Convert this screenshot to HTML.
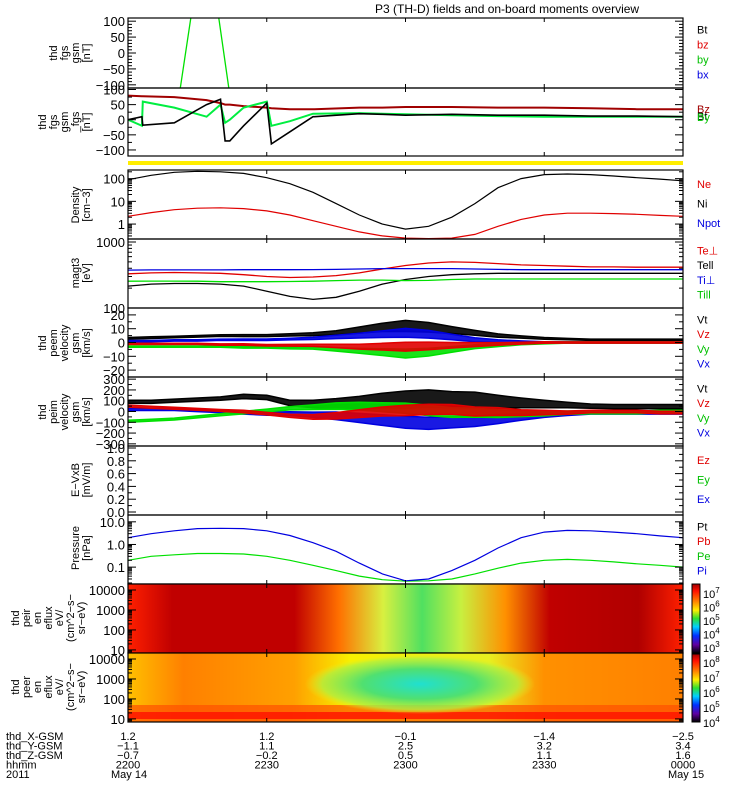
<!DOCTYPE html>
<html><head><meta charset="utf-8"><style>
body{margin:0;background:#fff}
svg{display:block;font-family:"Liberation Sans",sans-serif}
</style></head><body>
<svg id="c" width="750" height="800" viewBox="0 0 750 800">
<defs>
<linearGradient id="cbar" x1="0" y1="0" x2="0" y2="1">
<stop offset="0" stop-color="#a00000"/><stop offset="0.1" stop-color="#ff1000"/><stop offset="0.25" stop-color="#ff8000"/><stop offset="0.38" stop-color="#ffee00"/><stop offset="0.5" stop-color="#30e030"/><stop offset="0.62" stop-color="#00d0ff"/><stop offset="0.75" stop-color="#0030ff"/><stop offset="0.88" stop-color="#6000a0"/><stop offset="1" stop-color="#000"/>
</linearGradient>
<linearGradient id="ion" x1="0" y1="0" x2="1" y2="0">
<stop offset="0" stop-color="#ff2000"/><stop offset="0.08" stop-color="#c00000"/><stop offset="0.3" stop-color="#c00000"/><stop offset="0.38" stop-color="#ff7000"/><stop offset="0.46" stop-color="#d8f040"/><stop offset="0.53" stop-color="#50e060"/><stop offset="0.6" stop-color="#c8f040"/><stop offset="0.68" stop-color="#ff9000"/><stop offset="0.76" stop-color="#c00000"/><stop offset="0.92" stop-color="#b00000"/><stop offset="1" stop-color="#ff2000"/>
</linearGradient>
<linearGradient id="ele" x1="0" y1="0" x2="1" y2="0">
<stop offset="0" stop-color="#ffc000"/><stop offset="0.1" stop-color="#ff8000"/><stop offset="0.3" stop-color="#ffa000"/><stop offset="0.4" stop-color="#f8f000"/><stop offset="0.65" stop-color="#e8f020"/><stop offset="0.75" stop-color="#ff9000"/><stop offset="1" stop-color="#ff8000"/>
</linearGradient>
<radialGradient id="eblob" cx="0.5" cy="0.5" r="0.5">
<stop offset="0" stop-color="#20e0d0"/><stop offset="0.5" stop-color="#50e070"/><stop offset="0.85" stop-color="#b0f040" stop-opacity="0.8"/><stop offset="1" stop-color="#e8f020" stop-opacity="0"/>
</radialGradient>
<clipPath id="pc"><rect x="128" y="18" width="555" height="704"/></clipPath>
</defs>
</svg>
<script>
const NS='http://www.w3.org/2000/svg';
const svg=document.getElementById('c');
const X0=128,X1=683;
// time grid, minutes after 22:00
const times=[0,5,10,15,20,25,30,35,40,45,50,55,60,65,70,75,80,85,90,95,100,105,110,115,120];
const xTickLabels=['2200','2230','2300','2330','0000'];
const xTickMins=[0,30,60,90,120];
const gsmX=['1.2','1.2','-0.1','-1.4','-2.5'];
const gsmY=['-1.1','1.1','2.5','3.2','3.4'];
const gsmZ=['-0.7','-0.2','0.5','1.1','1.6'];
// density
const densNe=[90,140,190,210,200,170,110,60,25,8,2.5,1,0.6,0.8,2,8,40,100,150,160,150,130,110,95,80];
const densNi=[2.2,3.2,4.3,5,5.2,4.8,3.8,2.5,1.4,0.8,0.45,0.3,0.24,0.23,0.24,0.35,0.8,1.6,2.5,3,3,2.9,2.7,2.4,2.2];
// temperatures (eV)
const tePerp=[330,340,345,340,335,320,300,290,295,310,340,390,440,480,500,490,470,450,440,430,420,420,415,415,415];
const tePar=[215,230,235,235,230,215,180,150,135,145,180,230,270,300,320,330,335,335,335,335,335,335,335,335,335];
const tiPerp=[375,378,378,378,378,380,380,380,382,385,390,395,395,395,395,390,385,380,380,380,380,380,380,380,380];
const tiPar=[255,256,256,255,250,250,250,252,255,260,265,265,260,262,270,275,275,275,275,275,275,275,275,275,275];
// electron velocity km/s (center) and noise envelope
const v1t=[3,3.5,4,4.5,5,5,5,5.5,6,7,9,11,12,11,9,7,5,4,3,2.5,2,2,2,2,2];
const v1z=[-1,-1,-1,-1,-1.5,-1.5,-2,-2,-2,-2.5,-3,-3,-3,-2.5,-2,-1.5,-1,-0.5,0,0,0,0,0,0,0];
const v1y=[-3,-3,-3,-3,-3,-3.5,-3.5,-4,-4,-5,-6,-7,-8,-7,-5,-3,-2,-1,-0.5,0,0,0,0,0,0];
const v1x=[1,1,1.5,1.5,2,2,2,2.5,3,4,5,6,7,6,4,2,1,0.5,0,0,0,0,0,0,0];
const v1env=[0.6,0.6,0.6,0.6,0.6,0.7,0.7,0.8,1,1.5,2.2,3,4,3.5,2.5,1.8,1.2,0.8,0.6,0.5,0.5,0.5,0.5,0.5,0.5];
// ion velocity
const v2t=[90,90,100,110,120,140,130,80,70,70,80,100,110,120,110,110,90,80,70,60,50,45,45,45,45];
const v2z=[50,40,30,20,10,0,-20,-40,-50,-40,-20,0,10,20,20,0,0,-10,-10,-10,0,0,0,-10,-10];
const v2y=[-90,-80,-70,-50,-30,-10,10,30,40,50,50,40,30,10,-10,-10,-20,-20,-20,-10,-10,-10,-10,0,0];
const v2x=[20,20,20,10,0,-10,-20,-20,-30,-40,-60,-80,-100,-110,-100,-90,-70,-50,-30,-20,-10,-10,-10,-10,-10];
const v2env=[15,15,15,15,15,20,20,25,35,50,60,70,80,80,75,70,60,45,35,25,20,20,20,20,20];
// pressure nPa
const pPi=[2,3,4,5,5.2,5,4,2.5,1.2,0.5,0.15,0.05,0.025,0.03,0.07,0.2,0.7,2,3.5,4.2,4,3.5,3,2.4,2];
const pPe=[0.2,0.3,0.35,0.4,0.4,0.38,0.3,0.2,0.12,0.07,0.04,0.028,0.024,0.025,0.03,0.05,0.09,0.15,0.2,0.22,0.2,0.17,0.14,0.12,0.1];
// fgs (panel 1) green spike
const fgsT=[11.3,13.6,19.6,21.8];
const fgsY=[-110,112,112,-110];
// fgm: Bz red, Bt-ish black sawtooth, green
const fgmT=[0,3,3.2,10,17,20,21,22,25,30,31,35,40,40.3,50,55,60,70,80,90,100,110,120];
const fgmBz=[80,78,78,75,65,55,50,50,45,40,38,35,35,35,40,40,42,42,40,40,38,35,35];
const fgmBk=[0,10,-18,-10,50,68,-70,-70,-20,55,-80,-40,10,10,20,18,15,18,15,15,12,12,10];
const fgmBg=[0,-20,60,40,10,50,-10,0,40,60,-20,-5,20,20,22,20,18,15,12,10,10,10,10];

const xs=t=>X0+(X1-X0)*t/120;
function el(tag,attrs,name,inter,parent){const e=document.createElementNS(NS,tag);for(const k in attrs)e.setAttribute(k,attrs[k]);


(parent||svg).appendChild(e);return e;}
function txt(x,y,s,opt,name){const e=el('text',Object.assign({x:x,y:y,'font-size':opt.fs||11,fill:opt.fill||'#000','text-anchor':opt.anchor||'start'},opt.extra||{}),name,false);e.textContent=s;return e;}
function linScale(top,bot,lo,hi){return v=>bot-(bot-top)*(v-lo)/(hi-lo);}
function logScale(top,bot,lo,hi){return v=>bot-(bot-top)*(Math.log10(v)-Math.log10(lo))/(Math.log10(hi)-Math.log10(lo));}
const gclip=el('g',{'clip-path':'url(#pc)'},'plot-clip',false);
function line(tarr,varr,ys,col,name,w){const d=tarr.map((t,i)=>(i?'L':'M')+xs(t).toFixed(1)+','+ys(varr[i]).toFixed(1)).join('');el('path',{d:d,fill:'none',stroke:col,'stroke-width':w||1.3},name,false,gclip);}
function band(varr,env,k,ys,col,name){let up=times.map((t,i)=>xs(t).toFixed(1)+','+ys(varr[i]+env[i]*k).toFixed(1));let dn=times.map((t,i)=>xs(t).toFixed(1)+','+ys(varr[i]-env[i]*k).toFixed(1)).reverse();el('polygon',{points:up.concat(dn).join(' '),fill:col,'fill-opacity':0.9,stroke:col,'stroke-width':1.5},name,false,gclip);}
function frame(top,bot,name){el('rect',{x:X0,y:top,width:X1-X0,height:bot-top,fill:'none',stroke:'#000','stroke-width':1.2},name+'-frame',false);
xTickMins.forEach((m,i)=>{const x=xs(m);el('line',{x1:x,y1:top,x2:x,y2:top+4,stroke:'#000'},name+'-xtick',false);el('line',{x1:x,y1:bot,x2:x,y2:bot-4,stroke:'#000'},name+'-xtick',false);});}
function yticks(top,bot,ys,vals,labels,name,minor){vals.forEach((v,i)=>{const y=ys(v);el('line',{x1:X0,y1:y,x2:X0+8,y2:y,stroke:'#000'},name+'-ytick',false);el('line',{x1:X1,y1:y,x2:X1-8,y2:y,stroke:'#000'},name+'-ytick',false);txt(X0-3,y+5,labels[i],{fs:13,anchor:'end'},name+'-ytick-label');});
(minor||[]).forEach(v=>{const y=ys(v);el('line',{x1:X0,y1:y,x2:X0+4,y2:y,stroke:'#000'},name+'-yminor',false);el('line',{x1:X1,y1:y,x2:X1-4,y2:y,stroke:'#000'},name+'-yminor',false);});}
function ylabCols(lines,cy,name,xr){lines.slice().reverse().forEach((s,i)=>{const x=xr-i*11;const g=el('g',{transform:'translate('+x+','+cy+') rotate(-90)'},name,false);const t=el('text',{x:0,y:0,'font-size':11,'text-anchor':'middle'},name+'-line',false,g);t.textContent=s;});}
function legend(items,top,bot,name){const n=items.length;items.forEach((it,i)=>{const y=top+8+(bot-top-10)*(i+0.5)/n;txt(697,y,it[0],{fs:11,fill:it[1]},name+'-legend-'+i);});}
function minorLog(lo,hi){const a=[];for(let d=Math.floor(Math.log10(lo));d<Math.log10(hi);d++)for(let k=2;k<10;k++){const v=k*Math.pow(10,d);if(v>=lo&&v<=hi)a.push(v);}return a;}

txt(375,13,'P3 (TH-D) fields and on-board moments overview',{fs:12},'chart-title');

// Panel1
let ys=linScale(18,88,-110,110);
line(fgsT,fgsY,ys,'#00e000','fgs-by-line',1.3);
frame(18,88,'fgs-panel');yticks(18,88,ys,[100,50,0,-50,-100],['100','50','0','\u221250','\u2212100'],'fgs-panel',[90,80,70,60,40,30,20,10,-10,-20,-30,-40,-60,-70,-80,-90]);
ylabCols(['thd','fgs','gsm','[nT]'],53,'fgs-y-title',90);
legend([['Bt','#000'],['bz','#e00000'],['by','#00c000'],['bx','#0000e0']],18,88,'fgs');
// Panel2
ys=linScale(88,156,-120,105);
line(fgmT,fgmBz,ys,'#a00000','fgm-bz-line',2);
line(fgmT,fgmBg,ys,'#00ee40','fgm-by-line',2);
line(fgmT,fgmBk,ys,'#000','fgm-bt-line',1.6);
frame(88,156,'fgm-panel');yticks(88,156,ys,[100,50,0,-50,-100],['100','50','0','\u221250','\u2212100'],'fgm-panel',[75,25,-25,-75]);
ylabCols(['thd','fgs','gsm','_fgs','[nT]'],122,'fgm-y-title',90);
txt(697,113,'Bz',{fs:11,fill:'#a00000'},'fgm-legend-bz');txt(697,120,'Bt',{fs:11,fill:'#000'},'fgm-legend-bt');txt(697,121,'By',{fs:11,fill:'#00c000'},'fgm-legend-by');
// yellow bar
el('rect',{x:X0,y:161,width:X1-X0,height:4,fill:'#ffee00'},'mode-bar',false);
// Panel3 density
ys=logScale(170,239,0.22,240);
line(times,densNe,ys,'#000','density-ne-line',1.2);
line(times,densNi,ys,'#e00000','density-ni-line',1.2);
frame(170,239,'density-panel');yticks(170,239,ys,[100,10,1],['100','10','1'],'density-panel',minorLog(0.22,240));
ylabCols(['Density','[cm\u22123]'],205,'density-y-title',90);
legend([['Ne','#e00000'],['Ni','#000'],['Npot','#0000e0']],170,239,'density');
// Panel4 temperature
ys=logScale(242,308,100,1000);
line(times,tePar,ys,'#000','te-par-line',1.3);
line(times,tiPar,ys,'#00e000','ti-par-line',1.3);
line(times,tePerp,ys,'#e00000','te-perp-line',1.3);
line(times,tiPerp,ys,'#0000e0','ti-perp-line',1.3);
frame(239,308,'temperature-panel');yticks(239,308,ys,[1000,100],['1000','100'],'temperature-panel',minorLog(100,1000));
ylabCols(['magt3','[eV]'],273,'temperature-y-title',90);
legend([['Te\u22a5','#e00000'],['Tell','#000'],['Ti\u22a5','#0000e0'],['Till','#00c000']],239,308,'temperature');
// Panel5 velocity
ys=linScale(308,377,-25,25);
band(v1t,v1env,1,ys,'#000','v1-vt-band');band(v1x,v1env,0.8,ys,'#0000e0','v1-vx-band');band(v1y,v1env,0.8,ys,'#00e000','v1-vy-band');band(v1z,v1env,0.8,ys,'#e00000','v1-vz-band');
frame(308,377,'eflux-velocity-panel');yticks(308,377,ys,[20,10,0,-10,-20],['20','10','0','\u221210','\u221220'],'eflux-velocity-panel',[15,5,-5,-15]);
ylabCols(['thd','peem','velocity','gsm','[km/s]'],343,'eflux-velocity-y-title',90);
legend([['Vt','#000'],['Vz','#e00000'],['Vy','#00c000'],['Vx','#0000e0']],308,377,'eflux-velocity');
// Panel6
ys=linScale(377,446,-320,320);
band(v2t,v2env,1,ys,'#000','v2-vt-band');band(v2x,v2env,0.7,ys,'#0000e0','v2-vx-band');band(v2y,v2env,0.6,ys,'#00e000','v2-vy-band');band(v2z,v2env,0.6,ys,'#e00000','v2-vz-band');
frame(377,446,'ion-velocity-panel');yticks(377,446,ys,[300,200,100,0,-100,-200,-300],['300','200','100','0','\u2212100','\u2212200','\u2212300'],'ion-velocity-panel',[250,150,50,-50,-150,-250]);
ylabCols(['thd','peim','velocity','gsm','[km/s]'],412,'ion-velocity-y-title',90);
legend([['Vt','#000'],['Vz','#e00000'],['Vy','#00c000'],['Vx','#0000e0']],377,446,'ion-velocity');
// Panel7 E
ys=linScale(448,512,0,1);
frame(446,515,'efield-panel');yticks(446,515,ys,[1,0.8,0.6,0.4,0.2,0],['1.0','0.8','0.6','0.4','0.2','0.0'],'efield-panel',[0.9,0.7,0.5,0.3,0.1]);
ylabCols(['E\u2212VxB','[mV/m]'],480,'efield-y-title',90);
legend([['Ez','#e00000'],['Ey','#00c000'],['Ex','#0000e0']],446,515,'efield');
// Panel8 pressure
ys=logScale(515,584,0.018,20);
line(times,pPe,ys,'#00e000','pressure-pe-line',1.2);
line(times,pPi,ys,'#0000e0','pressure-pi-line',1.2);
frame(515,584,'pressure-panel');yticks(515,584,ys,[10,1,0.1],['10.0','1.0','0.1'],'pressure-panel',minorLog(0.018,20));
ylabCols(['Pressure','[nPa]'],548,'pressure-y-title',90);
legend([['Pt','#000'],['Pb','#e00000'],['Pe','#00c000'],['Pi','#0000e0']],515,584,'pressure');
// Panel9 ion spectrogram
el('rect',{x:X0,y:584,width:X1-X0,height:69,fill:'url(#ion)'},'ion-spectrogram',false);
ys=logScale(584,653,7,20000);
frame(584,653,'ion-spec-panel');yticks(584,653,ys,[10000,1000,100,10],['10000','1000','100','10'],'ion-spec-panel',minorLog(7,20000));
ylabCols(['thd','peir','en','eflux','eV/','(cm^2\u2212s\u2212','sr\u2212eV)'],618,'ion-spec-y-title',85);
// Panel10 electron spectrogram
el('rect',{x:X0,y:653,width:X1-X0,height:69,fill:'url(#ele)'},'electron-spectrogram',false);
el('rect',{x:X0,y:705,width:X1-X0,height:17,fill:'#ff5000','fill-opacity':0.7},'electron-spec-lowband',false);
el('rect',{x:X0,y:712,width:X1-X0,height:7,fill:'#ff1000','fill-opacity':0.8},'electron-spec-lowband2',false);
el('ellipse',{cx:420,cy:684,rx:115,ry:30,fill:'url(#eblob)'},'electron-spec-blob',false);
ys=logScale(653,722,7,20000);
frame(653,722,'electron-spec-panel');yticks(653,722,ys,[10000,1000,100,10],['10000','1000','100','10'],'electron-spec-panel',minorLog(7,20000));
ylabCols(['thd','peer','en','eflux','eV/','(cm^2\u2212s\u2212','sr\u2212eV)'],687,'electron-spec-y-title',85);
// colorbars
el('rect',{x:692,y:584,width:8,height:69,fill:'url(#cbar)',stroke:'#000'},'ion-colorbar',false);
el('rect',{x:692,y:654,width:8,height:68,fill:'url(#cbar)',stroke:'#000'},'electron-colorbar',false);
['7','6','5','4','3'].forEach((p,i)=>{const y=598+i*13.5;const t=txt(703,y,'10',{fs:11},'ion-colorbar-label');const s=document.createElementNS(NS,'tspan');s.setAttribute('dy','-5');s.setAttribute('font-size','8');s.textContent=p;t.appendChild(s);});
['8','7','6','5','4'].forEach((p,i)=>{const y=667+i*15;const t=txt(703,y,'10',{fs:11},'electron-colorbar-label');const s=document.createElementNS(NS,'tspan');s.setAttribute('dy','-5');s.setAttribute('font-size','8');s.textContent=p;t.appendChild(s);});
// bottom labels
['thd_X-GSM','thd_Y-GSM','thd_Z-GSM','hhmm','2011'].forEach((s,i)=>txt(6,740+i*9.5,s,{fs:11},'row-label-'+i));
xTickMins.forEach((m,i)=>{const x=xs(m);txt(x,740,gsmX[i].replace('-','\u2212'),{fs:11,anchor:'middle'},'gsm-x-label');txt(x,749.5,gsmY[i].replace('-','\u2212'),{fs:11,anchor:'middle'},'gsm-y-label');txt(x,759,gsmZ[i].replace('-','\u2212'),{fs:11,anchor:'middle'},'gsm-z-label');txt(x,768.5,xTickLabels[i],{fs:11,anchor:'middle'},'time-label');});
txt(xs(0)-17,778,'May 14',{fs:11},'date-start');txt(xs(120)-15,778,'May 15',{fs:11},'date-end');
</script>
</body></html>
